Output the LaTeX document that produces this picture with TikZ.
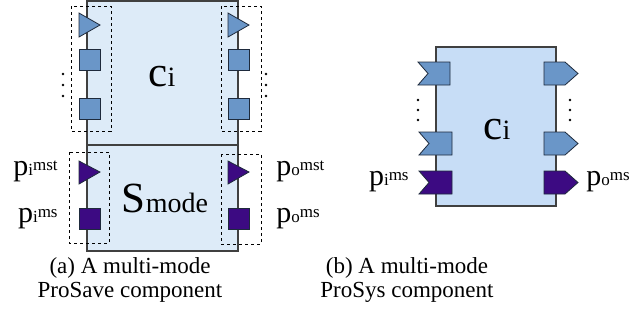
\documentclass[tikz,border=0pt]{standalone}
\usepackage{fontspec}
\setmainfont{Liberation Serif}
\definecolor{savefill}{HTML}{DDEBF8}
\definecolor{sysfill}{HTML}{C7DDF6}
\definecolor{portblue}{HTML}{6A96C8}
\definecolor{portpurple}{HTML}{3C0A82}
\definecolor{boxline}{HTML}{404040}
\definecolor{portline}{HTML}{1E2A3C}
\newcommand{\lowtxt}[1]{{\fontsize{8.5}{9}\selectfont #1}}
\newcommand{\subtxt}[1]{{\fontsize{14}{14}\selectfont #1}}
\begin{document}
\begin{tikzpicture}[x=0.5pt,y=-0.5pt,
  comp/.style={draw=boxline,line width=0.6pt},
  grp/.style={draw=black,line width=0.4pt,dash pattern=on 1.5pt off 1.5pt},
  bport/.style={fill=portblue,draw=portline,line width=0.4pt},
  mport/.style={fill=portpurple,draw=portline,line width=0.4pt},
  lbl/.style={font=\fontsize{15}{16}\selectfont,inner sep=0pt},
  big/.style={font=\fontsize{21.5}{22}\selectfont,inner sep=0pt},
  captxt/.style={font=\fontsize{11.5}{12}\selectfont,align=center,inner sep=0pt}]
  \useasboundingbox (0,0) rectangle (630,329);

  % (a) ProSave component with mode part
  \draw[comp,fill=savefill] (87,1) rectangle (238,145);
  \draw[comp,fill=savefill] (87,145) rectangle (238,251);
  \node[big] (ci) at (162,77) {c\subtxt{i}};
  \node[big] (smode) at (165,198) {S\subtxt{mode}};

  % port groups
  \draw[grp] (71,6) rectangle (111,131);
  \draw[grp] (221,6) rectangle (261,131);
  \draw[grp] (69,152) rectangle (109,243);
  \draw[grp] (221,154) rectangle (261,244);

  % ordinary ports
  \draw[bport] (79,13) -- (100,25) -- (79,37) -- cycle;
  \draw[bport] (79,49) rectangle (100,70);
  \draw[bport] (79,98) rectangle (100,119);
  \draw[bport] (228,13) -- (249,25) -- (228,37) -- cycle;
  \draw[bport] (228,49) rectangle (249,70);
  \draw[bport] (228,98) rectangle (249,119);
  \fill (63,74) circle (0.7pt) (63,85) circle (0.7pt) (63,96) circle (0.7pt);
  \fill (266,74) circle (0.7pt) (266,85) circle (0.7pt) (266,96) circle (0.7pt);

  % mode ports
  \draw[mport] (79,161) -- (100,172) -- (79,184) -- cycle;
  \draw[mport] (79,208) rectangle (100,229);
  \draw[mport] (228,161) -- (249,172) -- (228,184) -- cycle;
  \draw[mport] (228,208) rectangle (249,229);
  \node[lbl,anchor=east] (pimst) at (58,171) {p\lowtxt{i\raisebox{2.5pt}{mst}}};
  \node[lbl,anchor=east] (pims) at (58,219) {p\lowtxt{i\raisebox{2.5pt}{ms}}};
  \node[lbl,anchor=west] (pomst) at (276,171) {p\lowtxt{o\raisebox{2.5pt}{mst}}};
  \node[lbl,anchor=west] (poms) at (276,219) {p\lowtxt{o\raisebox{2.5pt}{ms}}};

  % (b) ProSys component
  \draw[comp,fill=sysfill] (436,47) rectangle (556,206);
  \node[big] (cib) at (497,130) {c\subtxt{i}};

  % input ports
  \draw[bport] (418,62) -- (450,62) -- (450,85) -- (418,85) -- (428,73.5) -- cycle;
  \draw[bport] (419,132) -- (452,132) -- (452,155) -- (419,155) -- (429,143.5) -- cycle;
  \draw[mport] (419,171) -- (452,171) -- (452,194) -- (419,194) -- (429,182.5) -- cycle;
  \fill (418,100) circle (0.7pt) (418,110) circle (0.7pt) (418,120) circle (0.7pt);

  % output ports
  \draw[bport] (544,62) -- (565,62) -- (578,73.5) -- (565,85) -- (544,85) -- cycle;
  \draw[bport] (544,132) -- (565,132) -- (578,143.5) -- (565,155) -- (544,155) -- cycle;
  \draw[mport] (544,171) -- (565,171) -- (578,182.5) -- (565,194) -- (544,194) -- cycle;
  \fill (570,100) circle (0.7pt) (570,110) circle (0.7pt) (570,120) circle (0.7pt);
  \node[lbl,anchor=east] (pimsb) at (409,182) {p\lowtxt{i\raisebox{2.5pt}{ms}}};
  \node[lbl,anchor=west] (pomsb) at (586,182) {p\lowtxt{o\raisebox{2.5pt}{ms}}};

  % captions
  \node[captxt] (capa) at (130,280) {(a) A multi-mode\\ProSave component};
  \node[captxt] (capb) at (407,280) {(b) A multi-mode\\ProSys component};
\end{tikzpicture}
\end{document}
